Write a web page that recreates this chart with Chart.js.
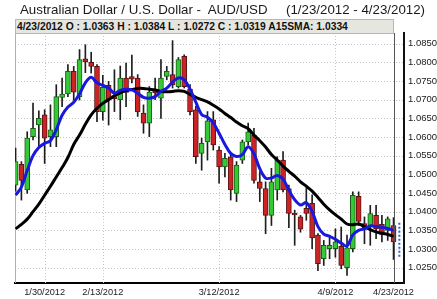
<!DOCTYPE html>
<html><head><meta charset="utf-8">
<script src="https://cdn.jsdelivr.net/npm/chart.js@4.4.0/dist/chart.umd.min.js"></script>
<style>
html,body{margin:0;padding:0;background:#fff;}
#wrap{position:relative;width:437px;height:299px;overflow:hidden;font-family:"Liberation Sans",Arial,sans-serif;background:#fff;}
#c{position:absolute;left:0;top:0;}
#title{position:absolute;left:20px;top:2px;font-size:13.3px;color:#1a1a1a;white-space:pre;}
#info{position:absolute;left:15px;top:19px;width:379px;height:15px;background:#e6e6e0;border:1px solid #b8b8b0;box-sizing:border-box;font-size:10.3px;font-weight:bold;line-height:13px;padding-left:1px;white-space:pre;color:#111;}
</style></head>
<body><div id="wrap"><canvas id="c" width="437" height="299"></canvas>
<div id="title">Australian Dollar / U.S. Dollar -  AUD/USD     (1/23/2012 - 4/23/2012)</div>
<div id="info"></div></div>
<script>
const dates = ['1/23/2012','1/24/2012','1/25/2012','1/26/2012','1/27/2012','1/30/2012','1/31/2012',
'2/1/2012','2/2/2012','2/3/2012','2/6/2012','2/7/2012','2/8/2012','2/9/2012','2/10/2012',
'2/13/2012','2/14/2012','2/15/2012','2/16/2012','2/17/2012','2/20/2012','2/21/2012','2/22/2012','2/23/2012','2/24/2012',
'2/27/2012','2/28/2012','2/29/2012','3/1/2012','3/2/2012','3/5/2012','3/6/2012','3/7/2012','3/8/2012','3/9/2012',
'3/12/2012','3/13/2012','3/14/2012','3/15/2012','3/16/2012','3/19/2012','3/20/2012','3/21/2012','3/22/2012','3/23/2012',
'3/26/2012','3/27/2012','3/28/2012','3/29/2012','3/30/2012','4/2/2012','4/3/2012','4/4/2012','4/5/2012','4/6/2012',
'4/9/2012','4/10/2012','4/11/2012','4/12/2012','4/13/2012','4/16/2012','4/17/2012','4/18/2012','4/19/2012','4/20/2012','4/23/2012'];
const opens = [1.0471,1.0527,1.0458,1.0601,1.0632,1.0659,1.0601,1.0601,1.0706,1.0715,1.0776,1.0708,1.0809,1.0800,1.0789,
1.0668,1.0738,1.0708,1.0700,1.0758,1.0762,1.0758,1.0664,1.0637,1.0728,1.0704,1.0762,1.0767,1.0735,1.0816,
1.0728,1.0673,1.0556,1.0587,1.0646,1.0565,1.0520,1.0547,1.0449,1.0538,1.0587,1.0605,1.0480,1.0462,1.0390,
1.0458,1.0538,1.0462,1.0393,1.0386,1.0409,1.0422,1.0337,1.0274,1.0301,1.0301,1.0307,1.0250,1.0301,1.0441,
1.0368,1.0363,1.0390,1.0366,1.0350,1.0363];
const highs = [1.0570,1.0534,1.0614,1.0691,1.0670,1.0673,1.0686,1.0740,1.0758,1.0794,1.0789,1.0834,1.0847,1.0827,1.0794,
1.0765,1.0749,1.0780,1.0790,1.0798,1.0819,1.0767,1.0686,1.0735,1.0758,1.0807,1.0789,1.0858,1.0813,1.0820,
1.0740,1.0682,1.0597,1.0668,1.0668,1.0574,1.0556,1.0556,1.0534,1.0592,1.0637,1.0623,1.0507,1.0480,1.0516,
1.0547,1.0561,1.0471,1.0404,1.0390,1.0462,1.0445,1.0341,1.0323,1.0337,1.0354,1.0359,1.0337,1.0453,1.0453,
1.0386,1.0417,1.0417,1.0390,1.0386,1.0384];
const lows = [1.0455,1.0431,1.0449,1.0592,1.0574,1.0529,1.0574,1.0574,1.0681,1.0708,1.0699,1.0699,1.0772,1.0771,1.0641,
1.0645,1.0632,1.0668,1.0646,1.0681,1.0745,1.0655,1.0610,1.0601,1.0700,1.0650,1.0753,1.0731,1.0731,1.0731,
1.0659,1.0529,1.0511,1.0538,1.0565,1.0476,1.0493,1.0431,1.0427,1.0529,1.0579,1.0476,1.0427,1.0341,1.0363,
1.0431,1.0453,1.0357,1.0310,1.0345,1.0377,1.0301,1.0242,1.0256,1.0274,1.0278,1.0247,1.0229,1.0292,1.0363,
1.0314,1.0310,1.0328,1.0319,1.0323,1.0272];
const closes = [1.0534,1.0484,1.0597,1.0623,1.0650,1.0597,1.0619,1.0708,1.0715,1.0776,1.0720,1.0807,1.0801,1.0789,1.0668,
1.0733,1.0699,1.0702,1.0758,1.0719,1.0755,1.0667,1.0637,1.0720,1.0718,1.0758,1.0776,1.0740,1.0807,1.0735,
1.0668,1.0547,1.0583,1.0643,1.0579,1.0520,1.0543,1.0458,1.0525,1.0587,1.0614,1.0484,1.0462,1.0390,1.0480,
1.0538,1.0458,1.0395,1.0391,1.0353,1.0395,1.0330,1.0261,1.0310,1.0310,1.0319,1.0256,1.0303,1.0444,1.0374,
1.0354,1.0395,1.0354,1.0339,1.0381,1.0319];
const fastMA = [1.0444,1.0466,1.0510,1.0550,1.0572,1.0583,1.0590,1.0620,1.0658,1.0680,1.0693,1.0715,1.0745,1.0760,1.0745,
1.0738,1.0731,1.0717,1.0725,1.0728,1.0726,1.0717,1.0706,1.0704,1.0708,1.0722,1.0731,1.0747,1.0758,1.0753,
1.0728,1.0693,1.0660,1.0653,1.0638,1.0610,1.0580,1.0556,1.0548,1.0553,1.0574,1.0555,1.0515,1.0490,1.0490,
1.0497,1.0487,1.0458,1.0432,1.0418,1.0424,1.0400,1.0360,1.0340,1.0334,1.0326,1.0316,1.0308,1.0338,1.0350,
1.0354,1.0362,1.0360,1.0358,1.0355,1.0350];
const sma15 = [1.0354,1.0366,1.0380,1.0400,1.0420,1.0444,1.0468,1.0493,1.0518,1.0545,1.0580,1.0605,1.0634,1.0659,1.0677,
1.0690,1.0700,1.0710,1.0718,1.0724,1.0727,1.0730,1.0730,1.0728,1.0726,1.0722,1.0721,1.0722,1.0724,1.0722,
1.0714,1.0706,1.0700,1.0694,1.0685,1.0675,1.0663,1.0652,1.0640,1.0630,1.0622,1.0605,1.0590,1.0573,1.0553,
1.0538,1.0522,1.0508,1.0495,1.0480,1.0468,1.0455,1.0438,1.0420,1.0405,1.0392,1.0380,1.0367,1.0365,1.0367,
1.0360,1.0352,1.0346,1.0342,1.0339,1.0334];
const rangeMarker = [1.0370, 1.0278];
const tickDates = ['1/30/2012','2/13/2012','3/12/2012','4/9/2012','4/23/2012'];
const yTicks = [1.025,1.030,1.035,1.040,1.045,1.050,1.055,1.060,1.065,1.070,1.075,1.080,1.085];

const last = dates.length - 1;
document.getElementById('info').textContent =
  dates[last] + ' O : ' + opens[last].toFixed(4) + ' H : ' + highs[last].toFixed(4) +
  ' L : ' + lows[last].toFixed(4) + ' C : ' + closes[last].toFixed(4) + ' A15SMA: ' + sma15[last].toFixed(4);

const isUp = i => closes[i] >= opens[i];
const bodyFill = dates.map((d,i) => isUp(i) ? '#35c935' : '#cc2424');
const bodyLine = dates.map((d,i) => isUp(i) ? '#1d5c1d' : '#5c1212');

const gridPlugin = {
  id: 'grid',
  beforeDatasetsDraw(chart) {
    const {ctx, chartArea: a, scales: {x, y}} = chart;
    ctx.save();
    ctx.strokeStyle = '#c4c4c4';
    ctx.lineWidth = 1;
    ctx.setLineDash([1, 2]);
    y.ticks.forEach(t => {
      const py = Math.round(y.getPixelForValue(t.value)) + 0.5;
      ctx.beginPath(); ctx.moveTo(a.left, py); ctx.lineTo(a.right, py); ctx.stroke();
    });
    x.ticks.forEach(t => {
      const px = Math.round(x.getPixelForValue(t.value)) + 0.5;
      ctx.beginPath(); ctx.moveTo(px, a.top); ctx.lineTo(px, a.bottom); ctx.stroke();
    });
    ctx.setLineDash([]);
    ctx.strokeStyle = '#b0b0b0';
    ctx.beginPath(); ctx.moveTo(a.left + 0.5, a.top); ctx.lineTo(a.left + 0.5, a.bottom); ctx.stroke();
    ctx.restore();
  },
  afterDatasetsDraw(chart) {
    const {ctx, chartArea: a, scales: {x}} = chart;
    const px = Math.round(x.getPixelForValue(last)) + 0.5;
    ctx.save();
    ctx.strokeStyle = '#555';
    ctx.lineWidth = 1;
    ctx.beginPath(); ctx.moveTo(px, a.top); ctx.lineTo(px, a.bottom); ctx.stroke();
    ctx.restore();
  }
};

new Chart(document.getElementById('c'), {
  type: 'bar',
  data: {
    datasets: [
      { type: 'line', data: fastMA.map((v,i) => ({x: i, y: v})), borderColor: '#1818e0', borderWidth: 3,
        pointRadius: 0, tension: 0.35, order: 0 },
      { type: 'line', data: sma15.map((v,i) => ({x: i, y: v})), borderColor: '#000', borderWidth: 3,
        pointRadius: 0, tension: 0.35, order: 1 },
      { type: 'line', data: rangeMarker.map(v => ({x: dates.length, y: v})), borderColor: '#3a5fd0', borderWidth: 2,
        borderDash: [2, 2], pointRadius: 0, order: 0, clip: false },
      { type: 'bar', data: dates.map((d,i) => ({x: i, y: [opens[i], closes[i]]})), backgroundColor: bodyFill,
        borderColor: bodyLine, borderWidth: 1, borderSkipped: false, barThickness: 5, minBarLength: 2, grouped: false, order: 2 },
      { type: 'bar', data: dates.map((d,i) => ({x: i, y: [lows[i], highs[i]]})), backgroundColor: '#1e1e1e',
        borderWidth: 0, barThickness: 1, grouped: false, order: 3 }
    ]
  },
  options: {
    responsive: false,
    animation: false,
    layout: { padding: { top: 33, left: 15, right: 0, bottom: 0 } },
    plugins: { legend: { display: false }, tooltip: { enabled: false } },
    scales: {
      x: {
        type: 'linear', min: -0.1, max: 66.8, offset: false,
        grid: { display: false, drawTicks: false },
        border: { display: true, color: '#000', width: 2 },
        afterBuildTicks: s => { s.ticks = tickDates.map(d => ({ value: dates.indexOf(d) })); },
        afterFit: s => { s.height = 16; },
        ticks: { autoSkip: false, maxRotation: 0, padding: 4, color: '#1a1a1a',
          font: { family: 'Liberation Sans', size: 9.2 }, callback: v => dates[v] }
      },
      y: {
        type: 'linear', position: 'right', min: 1.0209, max: 1.08784,
        grid: { display: false, drawTicks: false },
        border: { display: true, color: '#111', width: 2 },
        afterBuildTicks: s => { s.ticks = yTicks.map(v => ({ value: v })); },
        afterFit: s => { s.width = 33; },
        ticks: { padding: 4, color: '#1a1a1a', font: { family: 'Liberation Sans', size: 9.5 },
          callback: v => Number(v).toFixed(4) }
      }
    }
  },
  plugins: [gridPlugin]
});
</script>
</body></html>
